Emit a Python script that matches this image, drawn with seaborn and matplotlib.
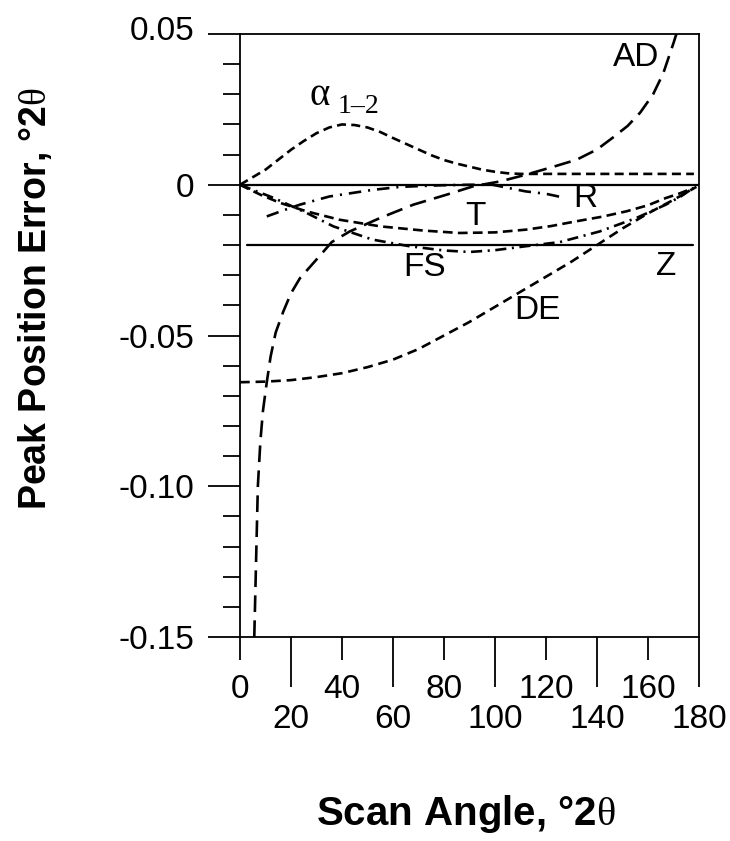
import numpy as np
import pandas as pd
import matplotlib
matplotlib.use("Agg")
import matplotlib.pyplot as plt
from matplotlib.ticker import FixedLocator, FixedFormatter, NullFormatter, MultipleLocator
from matplotlib.transforms import ScaledTranslation
import seaborn as sns

# ---------------- data ----------------
ALPHA_X = [0, 5, 10, 15, 20, 25, 30, 35, 40, 45, 50, 55, 60, 65, 70, 75, 80, 85, 90, 95, 100, 105, 110, 120, 140, 160, 178]
ALPHA_Y = [0.0, 0.0025, 0.005, 0.0083, 0.0116, 0.0145, 0.0171, 0.0190, 0.0200, 0.0198, 0.0190, 0.0175, 0.0155,
           0.0136, 0.0117, 0.0098, 0.0082, 0.0070, 0.0060, 0.0050, 0.0043, 0.0038, 0.0036, 0.0036, 0.0036, 0.0036, 0.0036]

AD_X = [5.6, 6.3, 7, 8, 9, 10.5, 12, 14, 17, 20, 23.5, 30, 36, 43, 55, 68, 81, 91.5, 102, 112, 123, 132, 140, 146,
        152, 157, 162, 166, 170, 171.5]
AD_Y = [-0.150, -0.125, -0.100, -0.085, -0.075, -0.0655, -0.057, -0.049, -0.042, -0.036, -0.031, -0.0248, -0.019,
        -0.0155, -0.011, -0.0066, -0.0033, -0.0005, 0.0011, 0.0033, 0.006, 0.0083, 0.0117, 0.0155, 0.0195, 0.0240,
        0.0300, 0.0370, 0.0470, 0.0510]

R_X = [10.5, 17, 23.5, 35, 52, 63, 78, 90, 99, 112, 120, 125.5]
R_Y = [-0.0105, -0.0085, -0.0066, -0.0039, -0.0017, -0.0007, -0.0002, 0.0, 0.0, -0.0022, -0.0030, -0.0040]

T_X = [0, 8, 15.7, 26, 39, 55, 72, 86, 100, 112, 122, 132, 142, 151.6, 160, 167, 172, 177.7]
T_Y = [0.0, -0.0033, -0.0060, -0.0088, -0.0116, -0.0138, -0.0152, -0.0160, -0.0158, -0.0149, -0.0137, -0.0121,
       -0.0106, -0.0088, -0.0068, -0.0044, -0.0030, -0.0011]

FS_X = [0, 6, 13, 26, 36.6, 52, 66.5, 80, 90, 100, 112, 125.5, 141, 155.5, 167, 173, 177.7]
FS_Y = [0.0, -0.0020, -0.0043, -0.0093, -0.0138, -0.0182, -0.0204, -0.0218, -0.0223, -0.0217, -0.0204, -0.0190,
        -0.0155, -0.0110, -0.0066, -0.0038, -0.0011]

DE_X = [0, 10, 20, 30, 40, 50, 60, 70, 80, 90, 100, 110, 120, 130, 140, 150, 160, 170, 179]
DE_Y = [-0.0655, -0.0653, -0.0648, -0.0638, -0.0625, -0.0605, -0.0580, -0.0545, -0.0500, -0.0455, -0.0405,
        -0.0355, -0.0305, -0.0255, -0.0200, -0.0145, -0.0095, -0.0050, -0.0007]

Z_X = [2.7, 177.7]
Z_Y = [-0.02, -0.02]

X_MAJOR = [0, 40, 80, 120, 160]
X_MINOR = [20, 60, 100, 140, 180]
Y_MAJOR = [0.05, 0.0, -0.05, -0.10, -0.15]
Y_LABELS = ["0.05", "0", "-0.05", "-0.10", "-0.15"]

CURVE_LABELS = {"AD": (155.5, 0.0423), "R": (135.3, -0.0046), "T": (92.2, -0.0104),
                "FS": (72.5, -0.0275), "Z": (167.0, -0.027), "DE": (116.5, -0.0418)}

# ---------------- style ----------------
sns.set_style("ticks", {"text.color": "black", "axes.labelcolor": "black", "xtick.color": "black",
                        "ytick.color": "black", "axes.edgecolor": "black"})
plt.rcParams["font.family"] = ["Liberation Sans", "DejaVu Sans"]
plt.rcParams["mathtext.fontset"] = "custom"
plt.rcParams["mathtext.rm"] = "Liberation Serif"
plt.rcParams["lines.scale_dashes"] = False

fig = plt.figure(figsize=(7.3, 8.41), dpi=100)
ax = fig.add_axes([240 / 730, 1 - 637 / 841, 459 / 730, 603 / 841])

LW = 1.9
curves = [
    (ALPHA_X, ALPHA_Y, (0, (6.5, 3.8))),
    (AD_X, AD_Y, (0, (12, 6))),
    (R_X, R_Y, (0, (9, 5, 1.5, 5))),
    (T_X, T_Y, (0, (7, 3.8))),
    (FS_X, FS_Y, (0, (8, 4, 1.5, 4))),
    (DE_X, DE_Y, (0, (7, 4.2))),
]
for xs, ys, ls in curves:
    sns.lineplot(x=xs, y=ys, ax=ax, color="black", linewidth=LW, linestyle=ls,
                 estimator=None, sort=False, legend=False)
sns.lineplot(x=Z_X, y=Z_Y, ax=ax, color="black", linewidth=1.6, linestyle="-",
             estimator=None, sort=False, legend=False)

ax.axhline(0, color="black", linewidth=1.6)

ax.set_xlim(0, 180)
ax.set_ylim(-0.15, 0.05)

# x ticks: two staggered rows
ax.xaxis.set_major_locator(FixedLocator(X_MAJOR))
ax.xaxis.set_major_formatter(FixedFormatter([str(v) for v in X_MAJOR]))
ax.xaxis.set_minor_locator(FixedLocator(X_MINOR))
ax.xaxis.set_minor_formatter(FixedFormatter([str(v) for v in X_MINOR]))
ax.tick_params(axis="x", which="major", direction="out", length=16.5, width=1.3, pad=10, labelsize=24,
               colors="black")
ax.tick_params(axis="x", which="minor", direction="out", length=36, width=1.3, pad=12, labelsize=24,
               colors="black")

# y ticks
ax.yaxis.set_major_locator(FixedLocator(Y_MAJOR))
ax.yaxis.set_major_formatter(FixedFormatter(Y_LABELS))
ax.yaxis.set_minor_locator(MultipleLocator(0.01))
ax.yaxis.set_minor_formatter(NullFormatter())
ax.tick_params(axis="y", which="major", direction="out", length=23, width=1.3, pad=10, labelsize=24,
               colors="black")
ax.tick_params(axis="y", which="minor", direction="out", length=12, width=1.3, colors="black")

for s in ax.spines.values():
    s.set_visible(True)
    s.set_linewidth(1.3)
    s.set_color("black")

# curve labels
for name, (lx, ly) in CURVE_LABELS.items():
    ax.text(lx, ly, name, fontsize=24, ha="center", va="center", color="black")
ax.text(31.4, 0.0295, "\u03b1", fontsize=28, family="Liberation Serif", ha="center", va="center", color="black")
ax.text(46.5, 0.0258, "1\u20132", fontsize=20, family="Liberation Serif", ha="center", va="center", color="black")

# axis labels
ax.set_xlabel("Scan Angle, \u00b02$\\mathrm{\\theta}$", fontsize=29, fontweight="bold", color="black")
ax.xaxis.set_label_coords(0.492, -0.3118)
ax.xaxis.label.set_va("baseline")
ax.set_ylabel("Peak Position Error, \u00b02$\\mathrm{\\theta}$", fontsize=27, fontweight="bold", color="black")
ax.yaxis.set_label_coords(-0.4466, 0.562)
ax.yaxis.label.set_va("center")

# the top y label sits slightly above its tick in the reference
fig.canvas.draw()
top_lbl = ax.yaxis.get_major_ticks()[0].label1
top_lbl.set_transform(top_lbl.get_transform() + ScaledTranslation(0, 0.06, fig.dpi_scale_trans))

fig.savefig("out.png", dpi=100)
